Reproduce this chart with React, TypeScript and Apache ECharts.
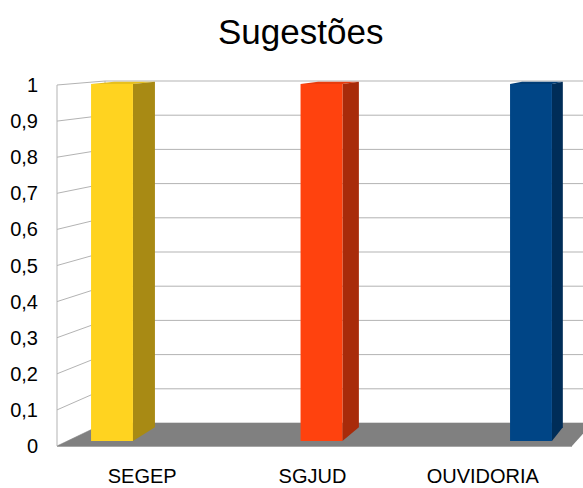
import { useEffect, useRef } from 'react';
import * as echarts from 'echarts';

const TITLE = 'Sugestões';
const CATEGORIES = ['SEGEP', 'SGJUD', 'OUVIDORIA'];
const VALUES = [1, 1, 1];
const Y_TICKS = [0, 0.1, 0.2, 0.3, 0.4, 0.5, 0.6, 0.7, 0.8, 0.9, 1];

const FRONT = ['#ffd320', '#ff420e', '#004586'];
const SIDE = ['#a88a14', '#a82b0a', '#002d58'];
const TOP = ['#e8c01d', '#e83c0d', '#003d77'];

const FONT = '"Liberation Sans", Arial, sans-serif';
const GRID_LINE = '#b3b3b3';

// approximate perspective offsets for the full depth of the chart box
const depthDx = (x: number) => 48 - 0.053 * (x - 57);
const depthDy = (y: number) => -(4 + (19 * (y - 85)) / 361);

export default function App() {
  const ref = useRef<HTMLDivElement>(null);

  useEffect(() => {
    if (!ref.current) return;
    const chart = echarts.init(ref.current, undefined, { renderer: 'svg' });

    const option: any = {
      animation: false,
      backgroundColor: '#ffffff',
      title: {
        text: TITLE,
        left: 218,
        top: 14,
        padding: 0,
        textStyle: { fontFamily: FONT, fontSize: 35, fontWeight: 'normal', color: '#000' },
      },
      grid: [
        { left: 57, right: 15, top: 85, bottom: 42 },
        { left: 112, right: 52, top: 84, bottom: 47 },
      ],
      xAxis: [
        {
          type: 'category',
          gridIndex: 0,
          data: CATEGORIES,
          axisLine: { show: false },
          axisTick: { show: false },
          splitLine: { show: false },
          axisLabel: { fontFamily: FONT, fontSize: 20, color: '#000', margin: 20 },
        },
        {
          type: 'category',
          gridIndex: 1,
          data: CATEGORIES,
          boundaryGap: false,
          show: false,
        },
      ],
      yAxis: [
        {
          type: 'value',
          gridIndex: 0,
          min: 0,
          max: 1,
          interval: 0.1,
          axisLine: { show: false },
          axisTick: { show: false },
          splitLine: { show: false },
          axisLabel: {
            fontFamily: FONT,
            fontSize: 20,
            color: '#000',
            margin: 19,
            formatter: (v: number) => String(Math.round(v * 10) / 10).replace('.', ','),
          },
        },
        { type: 'value', gridIndex: 1, min: 0, max: 1, show: false },
      ],
      series: [
        {
          // walls: grid lines on the left wall and back wall
          type: 'custom',
          xAxisIndex: 0,
          yAxisIndex: 0,
          z: 1,
          silent: true,
          data: Y_TICKS.map((v) => [0, v]),
          renderItem: (params: any, api: any) => {
            const cs = params.coordSys;
            const v = api.value(1);
            const yf = api.coord([0, v])[1];
            const L = cs.x;
            const R = cs.x + cs.width;
            const bx = L + depthDx(L);
            const by = yf + depthDy(yf);
            const rx = R + depthDx(R) + 40;
            return {
              type: 'group',
              children: [
                { type: 'line', shape: { x1: L, y1: yf, x2: bx, y2: by }, style: { stroke: GRID_LINE, lineWidth: 1 } },
                { type: 'line', shape: { x1: bx, y1: by, x2: rx, y2: by }, style: { stroke: GRID_LINE, lineWidth: 1 } },
              ],
            };
          },
        },
        {
          // floor + wall edges
          type: 'custom',
          xAxisIndex: 0,
          yAxisIndex: 0,
          z: 2,
          silent: true,
          data: [[0, 0]],
          renderItem: (params: any, api: any) => {
            const cs = params.coordSys;
            const y0 = api.coord([0, 0])[1];
            const y1 = api.coord([0, 1])[1];
            const L = cs.x;
            const R = cs.x + cs.width + 4;
            const dy0 = depthDy(y0);
            const dy1 = depthDy(y1);
            return {
              type: 'group',
              children: [
                { type: 'line', shape: { x1: L, y1: y0, x2: L, y2: y1 }, style: { stroke: GRID_LINE, lineWidth: 1 } },
                { type: 'line', shape: { x1: L + depthDx(L), y1: y0 + dy0, x2: L + depthDx(L), y2: y1 + dy1 }, style: { stroke: GRID_LINE, lineWidth: 1 } },
                {
                  type: 'polygon',
                  shape: {
                    points: [
                      [L, y0],
                      [L + depthDx(L), y0 + dy0],
                      [R + depthDx(R), y0 + dy0],
                      [R, y0],
                    ],
                  },
                  style: { fill: '#808080' },
                },
                { type: 'line', shape: { x1: L, y1: y0 + 0.5, x2: R, y2: y0 + 0.5 }, style: { stroke: '#a6a6a6', lineWidth: 1 } },
              ],
            };
          },
        },
        {
          // 3D bars
          type: 'custom',
          xAxisIndex: 1,
          yAxisIndex: 1,
          z: 3,
          data: VALUES.map((v, i) => [i, v]),
          renderItem: (params: any, api: any) => {
            const i = api.value(0);
            const v = api.value(1);
            const top = api.coord([i, v]);
            const base = api.coord([i, 0]);
            const bw = api.size([1, 0])[0] * 0.2;
            const x0 = top[0] - bw / 2;
            const x1 = top[0] + bw / 2;
            const yT = top[1];
            const yB = base[1];
            const dxR = 0.5 * depthDx(x1);
            const dxL = 0.5 * depthDx(x0);
            const dyT = 0.6 * depthDy(yT);
            const dyB = 0.6 * depthDy(yB);
            const k = params.dataIndex;
            return {
              type: 'group',
              children: [
                {
                  type: 'polygon',
                  shape: { points: [[x0, yT], [x0 + dxL, yT + dyT], [x1 + dxR, yT + dyT], [x1, yT]] },
                  style: { fill: TOP[k] },
                },
                {
                  type: 'polygon',
                  shape: { points: [[x1, yT], [x1 + dxR, yT + dyT], [x1 + dxR, yB + dyB], [x1, yB]] },
                  style: { fill: SIDE[k] },
                },
                {
                  type: 'rect',
                  shape: { x: x0, y: yT, width: bw, height: yB - yT },
                  style: { fill: FRONT[k] },
                },
              ],
            };
          },
        },
      ],
    };

    chart.setOption(option);
    return () => chart.dispose();
  }, []);

  return (
    <div
      ref={ref}
      style={{ position: 'absolute', left: 0, top: 0, width: 583, height: 488 }}
    />
  );
}
